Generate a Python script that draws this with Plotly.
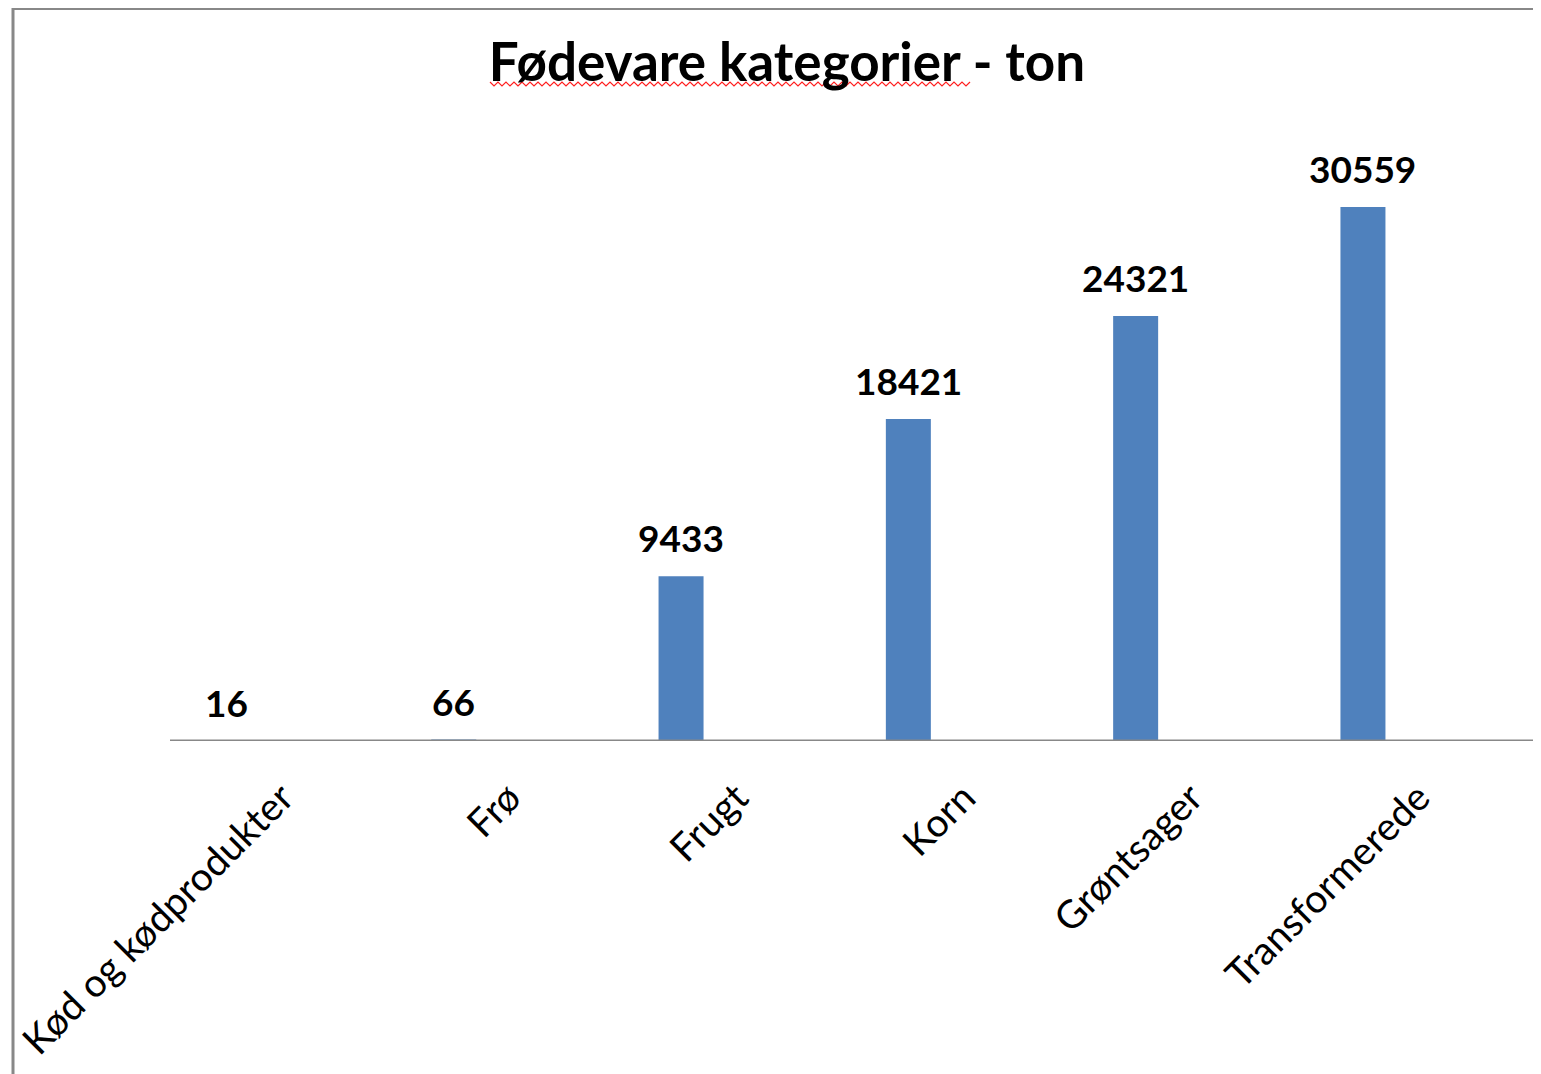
import plotly.graph_objects as go

categories = ["Kød og kødprodukter", "Frø", "Frugt", "Korn", "Grøntsager", "Transformerede"]
values = [16, 66, 9433, 18421, 24321, 30559]
title_text = "Fødevare kategorier - ton"

# page body has an 8px default margin; figure sized so it fills the 1541x1074 window
OFF = 8
W, H = 1541 - OFF, 1074 - OFF
FONT = "Lato"
GRAY = "#888888"

def px_x(p):
    return (p - OFF) / W

def px_y(p):
    return 1 - (p - OFF) / H

# plot geometry (window pixel coordinates)
x_left, x_right = 112.8, 1476.6
y_zero = 741
ymax = 35000
px_per_unit = 534 / 30559
y_top = y_zero - ymax * px_per_unit

fig = go.Figure()
fig.add_trace(go.Bar(
    x=list(range(len(categories))), y=values,
    marker=dict(color="#4F81BD", line=dict(width=0)),
    width=0.198,
    hoverinfo="x+y",
    xaxis="x", yaxis="y",
))

for i, v in enumerate(values):
    fig.add_annotation(
        x=i, y=v, xref="x", yref="y", text=f"<b>{v}</b>", showarrow=False,
        yanchor="bottom", yshift=14,
        font=dict(family=FONT, size=37, color="#000000"),
    )

label_shift = 0.245  # category units

fig.update_layout(
    width=W, height=H,
    margin=dict(l=0, r=0, t=0, b=0, autoexpand=False),
    paper_bgcolor="white", plot_bgcolor="white",
    showlegend=False,
    title=dict(
        text=f"<b>{title_text}</b>", x=px_x(787), xanchor="center",
        y=px_y(62), yanchor="middle", yref="paper", automargin=False,
        font=dict(family=FONT, size=53, color="#000000"),
    ),
    xaxis=dict(
        domain=[px_x(x_left), px_x(x_right)], range=[-0.5, len(categories) - 0.5],
        showticklabels=False, showgrid=False, zeroline=False, showline=False, ticks="",
        automargin=False,
    ),
    xaxis2=dict(
        domain=[px_x(x_left), px_x(x_right)],
        range=[-0.5 - label_shift, len(categories) - 0.5 - label_shift],
        overlaying="x", anchor="y", side="bottom",
        tickmode="array", tickvals=list(range(len(categories))), ticktext=categories,
        tickangle=-45, ticks="", showgrid=False, zeroline=False, showline=False,
        ticklabeloverflow="allow", ticklabelstandoff=25, automargin=False,
        tickfont=dict(family=FONT, size=39, color="#000000"),
    ),
    yaxis=dict(
        domain=[px_y(y_zero), px_y(y_top)], range=[0, ymax],
        showticklabels=False, showgrid=False, zeroline=False, showline=False, ticks="",
        automargin=False,
    ),
)

# invisible trace to activate xaxis2
fig.add_trace(go.Scatter(x=[0], y=[0], xaxis="x2", yaxis="y", mode="markers",
                         marker=dict(opacity=0), hoverinfo="skip"))

# category axis line
fig.add_shape(type="line", xref="paper", yref="y", x0=px_x(170), x1=px_x(1535),
              y0=0, y1=0, line=dict(color=GRAY, width=3))
# chart frame (top and left edges)
fig.add_shape(type="line", xref="paper", yref="paper", x0=px_x(12), x1=1,
              y0=1, y1=1, line=dict(color=GRAY, width=4))
fig.add_shape(type="line", xref="paper", yref="paper", x0=px_x(13), x1=px_x(13),
              y0=1, y1=0, line=dict(color=GRAY, width=3))

# spell-check squiggle under title
pts = []
xx, k = 490.0, 0
while xx <= 970:
    pts.append((px_x(xx), px_y(82 if k % 2 == 0 else 86)))
    xx += 4
    k += 1
path = "M " + " L ".join(f"{a:.5f},{b:.5f}" for a, b in pts)
fig.add_shape(type="path", xref="paper", yref="paper", path=path,
              line=dict(color="#ff2020", width=1.2))

fig.write_html("out.html", config={"displayModeBar": False})
